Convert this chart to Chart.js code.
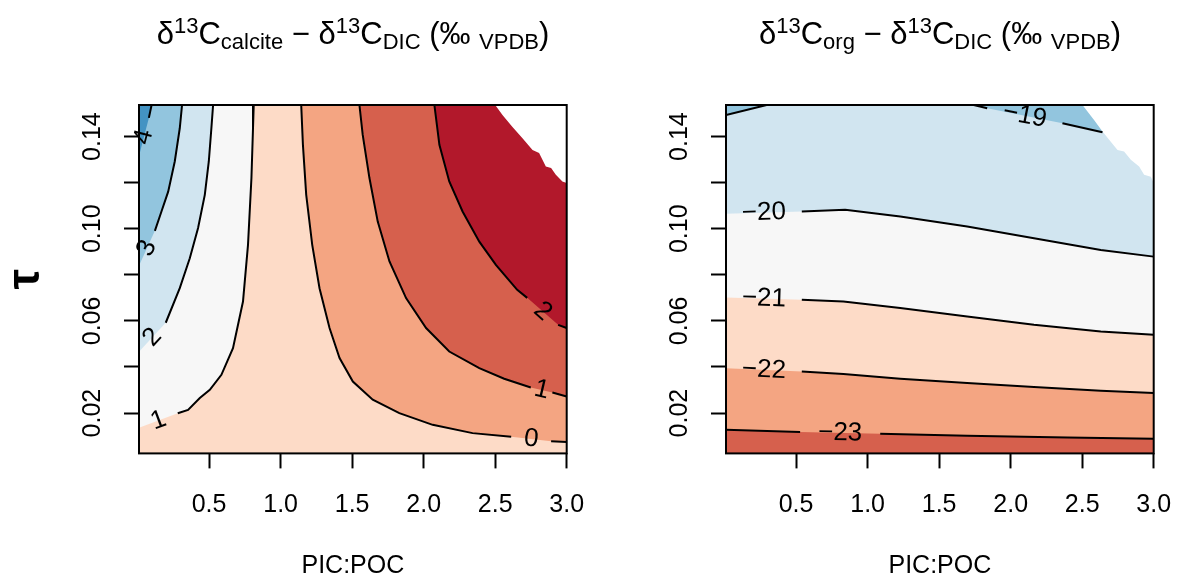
<!DOCTYPE html>
<html>
<head>
<meta charset="utf-8">
<script src="https://cdn.jsdelivr.net/npm/chart.js@4.4.1/dist/chart.umd.min.js"></script>
<style>
html, body { margin: 0; padding: 0; background: #fff; }
#wrap { position: relative; width: 1180px; height: 581px; overflow: hidden; font-family: "Liberation Sans", Arial, sans-serif; }
canvas { position: absolute; top: 0; }
.ttl { position: absolute; top: 19px; font-size: 31px; line-height: 30px; text-align: center; white-space: nowrap; color: #000; }
.ttl sup, .ttl sub { font-size: 22px; line-height: 0; position: relative; vertical-align: baseline; }
.ttl sup { top: -11px; }
.ttl sub { top: 5px; }
</style>
</head>
<body>
<div id="wrap">
  <canvas id="calcite" width="587" height="581" style="left:0"></canvas>
  <canvas id="org" width="587" height="581" style="left:587px"></canvas>
  <div class="ttl" style="left:139px;width:428px">δ<sup>13</sup>C<sub>calcite</sub> − δ<sup>13</sup>C<sub>DIC</sub> (‰ <sub>VPDB</sub>)</div>
  <div class="ttl" style="left:726px;width:428px">δ<sup>13</sup>C<sub>org</sub> − δ<sup>13</sup>C<sub>DIC</sub> (‰ <sub>VPDB</sub>)</div>
</div>
<script>
// axes: PIC:POC on x, tau on y
const picRange = [0.01, 3.0];
const tauRange = [0.0025, 0.1537];
const picTicks = [0.5, 1.0, 1.5, 2.0, 2.5, 3.0];
const tauTicks = [0.02, 0.04, 0.06, 0.08, 0.10, 0.12, 0.14];
const tauTickLabels = [0.02, 0.06, 0.10, 0.14];

// d13C calcite - d13C DIC contours, points are [PIC:POC, tau]
const calcLine4 = [[0.098, 0.1537], [0.079, 0.1481], [0.01, 0.1316]];
const calcLine3 = [[0.311, 0.1537], [0.295, 0.1436], [0.260, 0.1292], [0.214, 0.1161], [0.167, 0.1075], [0.121, 0.0991], [0.01, 0.0839]];
const calcLine2 = [[0.528, 0.1537], [0.516, 0.1436], [0.498, 0.1292], [0.470, 0.1147], [0.423, 0.1003], [0.365, 0.0872], [0.295, 0.0742], [0.197, 0.0592], [0.01, 0.0466]];
const calcLine1 = [[0.812, 0.1537], [0.807, 0.1436], [0.796, 0.1220], [0.772, 0.0930], [0.737, 0.0684], [0.667, 0.0482], [0.586, 0.0366], [0.505, 0.0301], [0.435, 0.0265], [0.353, 0.0214], [0.281, 0.0199], [0.01, 0.0136]];
const calcLine0 = [[1.144, 0.1537], [1.156, 0.1364], [1.179, 0.1147], [1.221, 0.0930], [1.272, 0.0742], [1.342, 0.0569], [1.412, 0.0439], [1.505, 0.0337], [1.644, 0.0258], [1.830, 0.0200], [2.063, 0.0149], [2.342, 0.0113], [2.612, 0.0097], [2.891, 0.0078], [3.0, 0.0074]];
const calcLine1b = [[1.551, 0.1537], [1.574, 0.1407], [1.621, 0.1220], [1.679, 0.1031], [1.761, 0.0858], [1.877, 0.0699], [2.017, 0.0569], [2.179, 0.0467], [2.389, 0.0395], [2.563, 0.0349], [2.749, 0.0311], [2.900, 0.0289], [3.0, 0.0272]];
const calcLine2b = [[2.075, 0.1537], [2.110, 0.1364], [2.179, 0.1205], [2.272, 0.1075], [2.389, 0.0944], [2.505, 0.0843], [2.654, 0.0735], [2.724, 0.0700], [2.940, 0.0583], [3.0, 0.0569]];
const calcNoData = [[2.500, 0.1537], [2.551, 0.1494], [2.621, 0.1442], [2.691, 0.1393], [2.761, 0.1342], [2.807, 0.1329], [2.854, 0.1270], [2.891, 0.1264], [2.924, 0.1234], [2.970, 0.1205], [3.0, 0.1198]];

// d13C org - d13C DIC contours
const orgLine19a = [[0.01, 0.1494], [0.294, 0.1537]];
const orgLine19b = [[1.742, 0.1537], [1.836, 0.1523], [2.362, 0.1458], [2.642, 0.1419]];
const orgLine20 = [[0.01, 0.1065], [0.54, 0.1075], [0.843, 0.1082], [1.228, 0.1053], [1.696, 0.1010], [2.163, 0.0959], [2.63, 0.0908], [3.0, 0.0879]];
const orgLine21 = [[0.01, 0.0702], [0.54, 0.0692], [0.831, 0.0684], [1.228, 0.0656], [1.696, 0.0619], [2.163, 0.0583], [2.63, 0.0554], [3.0, 0.0540]];
const orgLine22 = [[0.01, 0.0394], [0.54, 0.0380], [0.831, 0.0370], [1.228, 0.0349], [1.696, 0.0330], [2.163, 0.0313], [2.63, 0.0297], [3.0, 0.0287]];
const orgLine23 = [[0.01, 0.01275], [0.528, 0.01176], [1.088, 0.0110], [1.696, 0.01015], [2.397, 0.0094], [3.0, 0.00885]];
const orgNoData = [[2.502, 0.1537], [2.583, 0.1472], [2.642, 0.1422], [2.700, 0.1378], [2.747, 0.1342], [2.793, 0.1335], [2.840, 0.1299], [2.898, 0.1270], [2.933, 0.1234], [2.980, 0.1226], [3.0, 0.1198]];

const RDBU = {
  darkRed: '#B2182B', red: '#D6604D', salmon: '#F4A582', peach: '#FDDBC7',
  grey: '#F7F7F7', lightBlue: '#D1E5F0', blue: '#92C5DE', darkBlue: '#4393C3'
};
const FONT = '"Liberation Sans", Arial, Helvetica, sans-serif';

const TL = [picRange[0], tauRange[1]];
const TR = [picRange[1], tauRange[1]];
const BL = [picRange[0], tauRange[0]];
const BR = [picRange[1], tauRange[0]];
const closeWith = (line, ...corners) => line.concat(corners);

// filled bands, painted bottom to top
const calcFills = [
  { pts: [BL, BR, TR, TL], color: RDBU.peach },
  { pts: closeWith(calcLine1, TL), color: RDBU.grey },
  { pts: closeWith(calcLine2, TL), color: RDBU.lightBlue },
  { pts: closeWith(calcLine3, TL), color: RDBU.blue },
  { pts: closeWith(calcLine4, TL), color: RDBU.darkBlue },
  { pts: closeWith(calcLine0, TR), color: RDBU.salmon },
  { pts: closeWith(calcLine1b, TR), color: RDBU.red },
  { pts: closeWith(calcLine2b, TR), color: RDBU.darkRed },
  { pts: closeWith(calcNoData, TR), color: '#FFFFFF' }
];
const calcLines = [
  { pts: calcLine4, label: '4', gap: 1 },
  { pts: calcLine3, label: '3', gap: 5 },
  { pts: calcLine2, label: '2', gap: 7 },
  { pts: calcLine1, label: '1', gap: 10 },
  { pts: calcLine0, label: '0', gap: 12 },
  { pts: calcLine1b, label: '1', gap: 10 },
  { pts: calcLine2b, label: '2', gap: 7 }
];

const orgFills = [
  { pts: [BL, BR, TR, TL], color: RDBU.red },
  { pts: closeWith(orgLine23, TR, TL), color: RDBU.salmon },
  { pts: closeWith(orgLine22, TR, TL), color: RDBU.peach },
  { pts: closeWith(orgLine21, TR, TL), color: RDBU.grey },
  { pts: closeWith(orgLine20, TR, TL), color: RDBU.lightBlue },
  { pts: closeWith(orgLine19a, TL), color: RDBU.blue },
  { pts: closeWith(orgLine19b, TR), color: RDBU.blue },
  { pts: closeWith(orgNoData, TR), color: '#FFFFFF' }
];
const orgLines = [
  { pts: orgLine19a },
  { pts: orgLine19b, label: '\u221219', gap: 1 },
  { pts: orgLine20, label: '\u221220', gap: 0 },
  { pts: orgLine21, label: '\u221221', gap: 0 },
  { pts: orgLine22, label: '\u221222', gap: 0 },
  { pts: orgLine23, label: '\u221223', gap: 1 }
];

Chart.defaults.font.family = FONT;
Chart.defaults.color = '#000';

const toXY = pts => pts.map(([x, y]) => ({ x, y }));

// contour labels sit in the gap left in each line
const contourLabels = {
  id: 'contourLabels',
  afterDatasetsDraw(chart) {
    const ctx = chart.ctx;
    chart.data.datasets.forEach((ds, i) => {
      if (ds.gapAt === undefined) return;
      const pts = chart.getDatasetMeta(i).data;
      const a = pts[ds.gapAt], b = pts[ds.gapAt + 1];
      let ang = Math.atan2(b.y - a.y, b.x - a.x);
      if (ang > Math.PI / 2) ang -= Math.PI;
      else if (ang < -Math.PI / 2) ang += Math.PI;
      ctx.save();
      ctx.translate((a.x + b.x) / 2, (a.y + b.y) / 2);
      ctx.rotate(ang);
      ctx.font = '26px ' + FONT;
      ctx.textAlign = 'center';
      ctx.textBaseline = 'middle';
      ctx.fillStyle = '#000';
      ctx.fillText(ds.contourLabel, 0, 0);
      ctx.restore();
    });
  }
};

const frame = {
  id: 'frame',
  afterDraw(chart) {
    const { left, top, right, bottom } = chart.chartArea;
    const ctx = chart.ctx;
    ctx.save();
    ctx.strokeStyle = '#000';
    ctx.lineWidth = 2;
    ctx.strokeRect(left, top, right - left, bottom - top);
    ctx.restore();
  }
};

function contourChart(id, fills, lines, showTau) {
  const datasets = [];
  fills.forEach(f => datasets.push({
    data: toXY(f.pts),
    showLine: true,
    fill: 'shape',
    backgroundColor: f.color,
    borderColor: 'rgba(0,0,0,0)',
    borderWidth: 0,
    pointRadius: 0
  }));
  lines.forEach(l => datasets.push({
    data: toXY(l.pts),
    showLine: true,
    fill: false,
    borderColor: '#000',
    borderWidth: 2,
    pointRadius: 0,
    gapAt: l.gap,
    contourLabel: l.label,
    segment: {
      borderColor: c => (c.p0DataIndex === l.gap ? 'rgba(0,0,0,0)' : undefined)
    }
  }));
  // first dataset is drawn last, so flip the order
  datasets.forEach((d, i) => { d.order = datasets.length - i; });

  const axisGrid = { drawOnChartArea: false, drawTicks: true, tickLength: 15, tickWidth: 2, color: '#000' };
  const tickFont = { size: 25, family: FONT };

  const chart = new Chart(document.getElementById(id), {
    type: 'scatter',
    data: { datasets },
    options: {
      responsive: false,
      animation: false,
      events: [],
      devicePixelRatio: 1,
      layout: { padding: { top: 105, right: 20.3, bottom: 0, left: 0 } },
      plugins: { legend: { display: false }, tooltip: { enabled: false } },
      scales: {
        x: {
          type: 'linear',
          min: picRange[0],
          max: picRange[1],
          afterBuildTicks: s => { s.ticks = picTicks.map(v => ({ value: v })); },
          afterFit: s => { s.height = 127.6; s.paddingLeft = 0; s.paddingRight = 0; },
          grid: axisGrid,
          border: { display: false },
          ticks: { font: tickFont, color: '#000', padding: 22, maxRotation: 0, autoSkip: false,
                   callback: v => v.toFixed(1) },
          title: { display: true, text: 'PIC:POC', font: { size: 25 }, color: '#000', padding: { top: 0, bottom: 0 } }
        },
        y: {
          type: 'linear',
          min: tauRange[0],
          max: tauRange[1],
          afterBuildTicks: s => { s.ticks = tauTicks.map(v => ({ value: v })); },
          afterFit: s => { s.width = 139; s.paddingTop = 0; s.paddingBottom = 0; },
          grid: axisGrid,
          border: { display: false },
          ticks: { font: tickFont, color: '#000', padding: 7, minRotation: 90, maxRotation: 90,
                   crossAlign: 'center', autoSkip: false,
                   callback: v => (tauTickLabels.some(t => Math.abs(t - v) < 1e-9) ? v.toFixed(2) : '') },
          title: { display: showTau, text: 'τ', font: { size: 46, weight: 'bold', lineHeight: 1 }, color: '#000', padding: { top: 3, bottom: 0 } }
        }
      }
    },
    plugins: [contourLabels, frame]
  });
  chart.update();
  return chart;
}

contourChart('calcite', calcFills, calcLines, true);
contourChart('org', orgFills, orgLines, false);
</script>
</body>
</html>
